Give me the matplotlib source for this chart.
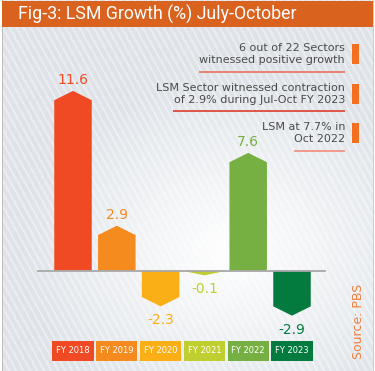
import numpy as np
import matplotlib
matplotlib.use("Agg")
import matplotlib.pyplot as plt
from matplotlib.patches import Polygon, Rectangle

# data
years = ["FY 2018", "FY 2019", "FY 2020", "FY 2021", "FY 2022", "FY 2023"]
growth = [11.6, 2.9, -2.3, -0.1, 7.6, -2.9]
labels = ["11.6", "2.9", "-2.3", "-0.1", "7.6", "-2.9"]
colors = ["#EF4A23", "#F58A1F", "#FBAF17", "#BFCE30", "#76B043", "#037B3F"]

notes = ["6 out of 22 Sectors\nwitnessed positive growth",
         "LSM Sector witnessed contraction\nof 2.9% during Jul-Oct FY 2023",
         "LSM at 7.7% in\nOct 2022"]
note_line_colors = ["#EA7A68", "#DD4B3A", "#EE9483"]

W, H = 375, 371
fig = plt.figure(figsize=(W / 100, H / 100), dpi=100)

# background panel in pixel coords
bg = fig.add_axes([0, 0, 1, 1])
bg.set_xlim(0, W)
bg.set_ylim(H, 0)
bg.axis("off")

yy, xx = np.mgrid[0:H, 0:W]
g = np.clip(((xx - 230) / 210.0) ** 2 + ((yy - 250) / 170.0) ** 2, 0, 1) ** 0.5
gray = np.array([0.875, 0.892, 0.91])
img = (1 - g[..., None]) * 1.0 + g[..., None] * gray
stripe = ((xx - 0.55 * yy) % 7) < 2.5
img = img + stripe[..., None] * 0.04 * g[..., None]
img = np.clip(img, 0, 1)
img[:, :2] = 1.0
img[:, 374:] = 1.0
img[:, 2] = [0.74, 0.74, 0.74]
img[:, 373] = [0.80, 0.80, 0.80]
bg.imshow(img, extent=(0, W, H, 0), aspect="auto", interpolation="nearest")

# title bar
bg.add_patch(Rectangle((2, 1), 371, 26, color="#D9621F", lw=0))
bg.text(18, 14.5, "Fig-3: LSM Growth (%) July-October", color="white",
        fontsize=12.8, family="Roboto", va="center", ha="left")

# side notes
note_y = [54, 94, 133]
line_y = [72, 111, 151]
line_x0 = [199, 173, 294]
for txt, ty, ly, lx, lc in zip(notes, note_y, line_y, line_x0, note_line_colors):
    bg.text(345, ty, txt, ha="right", va="center", fontsize=8,
            color="#4A4A4A", linespacing=1.2)
    bg.plot([lx, 345], [ly, ly], color=lc, lw=1.3, solid_capstyle="butt")
    bg.add_patch(Rectangle((352, ty - 10), 7, 20, color="#F37021", lw=0))

bg.text(358, 321, "Source: PBS", rotation=90, ha="center", va="center",
        fontsize=9, color="#F0803C")

# chart axes
x0, dx = 73.0, 43.8
base_px, scale = 270.7, 15.5
ax = fig.add_axes([0, 0, 1, 1])
ax.patch.set_visible(False)
ax.axis("off")
ax.set_xlim(-x0 / dx, (W - x0) / dx)
ax.set_ylim(-(H - base_px) / scale, base_px / scale)

w = 0.856
tip = 0.6
for i, (v, c, lab) in enumerate(zip(growth, colors, labels)):
    s = 1 if v >= 0 else -1
    depth = max(abs(v), 0.3)
    sh = max(depth - tip, 0.05)
    pts = [(i - w / 2, 0), (i - w / 2, s * sh), (i, s * depth),
           (i + w / 2, s * sh), (i + w / 2, 0)]
    ax.add_patch(Polygon(pts, closed=True, color=c, lw=0, zorder=2))
    off = 8 if v >= 0 else -10
    ax.annotate(lab, (i, s * depth), xytext=(0, off), textcoords="offset points",
                ha="center", va="center", fontsize=10, color=c)

ax.plot([-0.8, 5.75], [0, 0], color="#A8A8A8", lw=1.3, zorder=3)

# legend boxes
for i, (yr, c) in enumerate(zip(years, colors)):
    ax.add_patch(Rectangle((i - 0.47, 0.027), 0.94, 0.054, color=c, lw=0,
                           transform=ax.get_xaxis_transform()))
    ax.text(i, 0.054, yr, ha="center", va="center", fontsize=6, color="white",
            transform=ax.get_xaxis_transform())

fig.savefig("out.png", dpi=100)
